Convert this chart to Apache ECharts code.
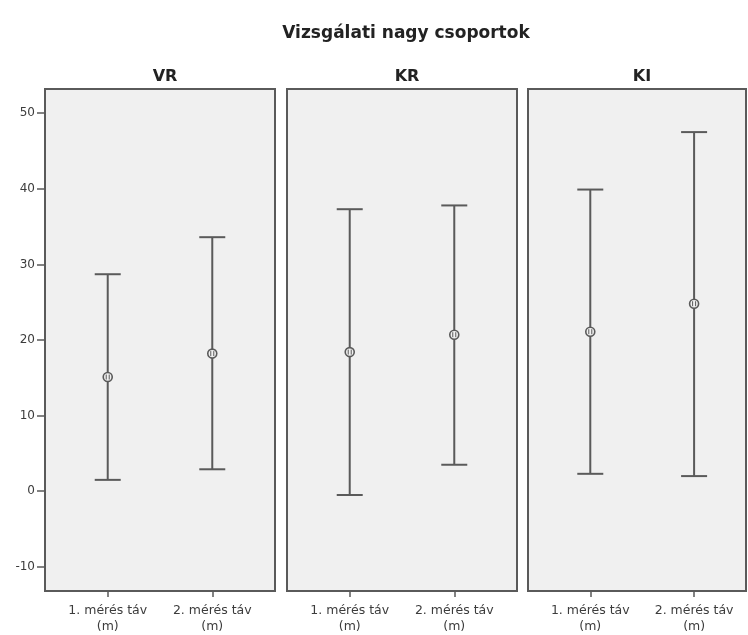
<!DOCTYPE html>
<html>
<head>
<meta charset="utf-8">
<script src="https://cdn.jsdelivr.net/npm/echarts@6/dist/echarts.min.js"></script>
<style>html,body{margin:0;padding:0;background:#fff;}#c{width:748px;height:635px;}</style>
</head>
<body>
<div id="c"></div>
<script>
// ---- data ----
const groups = ['VR', 'KR', 'KI'];
const measures = ['1. mérés táv\n(m)', '2. mérés táv\n(m)'];
const meanVR = [15.1, 18.2];
const lowerVR = [1.5, 2.9];
const upperVR = [28.7, 33.6];
const meanKR = [18.4, 20.7];
const lowerKR = [-0.5, 3.5];
const upperKR = [37.3, 37.8];
const meanKI = [21.1, 24.8];
const lowerKI = [2.3, 2.0];
const upperKI = [39.9, 47.5];
const yTicks = [-10, 0, 10, 20, 30, 40, 50];
const title = 'Vizsgálati nagy csoportok';

const seriesData = [
  [meanVR, lowerVR, upperVR],
  [meanKR, lowerKR, upperKR],
  [meanKI, lowerKI, upperKI]
];

const FONT = 'DejaVu Sans';
const LINE = '#5a5a5a';
const TEXT = '#3c3c3c';

const gridPos = [
  {left: 45, width: 230},
  {left: 287, width: 230},
  {left: 528, width: 218}
];
const xMax = [1.6, 1.6, 1.5];

const grids = [], xAxes = [], yAxes = [], series = [];
const titles = [{
  text: title, left: 401, top: 20, textAlign: 'center',
  textStyle: {fontFamily: FONT, fontSize: 17, fontWeight: 'bold', color: '#222'}
}];

groups.forEach((g, i) => {
  grids.push({
    left: gridPos[i].left, width: gridPos[i].width, top: 89, height: 503,
    show: true, backgroundColor: '#f0f0f0', borderColor: LINE, borderWidth: 2
  });
  titles.push({
    text: g, left: gridPos[i].left + gridPos[i].width / 2, top: 64, textAlign: 'center',
    textStyle: {fontFamily: FONT, fontSize: 16, fontWeight: 'bold', color: '#222'}
  });
  xAxes.push({
    type: 'value', gridIndex: i, min: -0.6, max: xMax[i], position: 'bottom',
    axisLine: {show: false, onZero: false}, splitLine: {show: false},
    axisTick: {show: true, customValues: [0, 1], length: 6, lineStyle: {color: LINE, width: 1.5}},
    axisLabel: {
      show: true, customValues: [0, 1], margin: 12,
      formatter: v => measures[Math.round(v)],
      fontFamily: FONT, fontSize: 12.5, lineHeight: 16, color: TEXT
    }
  });
  yAxes.push({
    type: 'value', gridIndex: i, min: -13.2, max: 53.2, position: 'left',
    show: i === 0,
    splitLine: {show: false},
    axisLine: {show: true, onZero: false, lineStyle: {color: LINE, width: 2}},
    axisTick: {show: true, customValues: yTicks, length: 8, lineStyle: {color: LINE, width: 1.5}},
    axisLabel: {show: true, customValues: yTicks, margin: 10, fontFamily: FONT, fontSize: 12, color: TEXT}
  });
  const [m, lo, hi] = seriesData[i];
  series.push({
    type: 'custom', xAxisIndex: i, yAxisIndex: i,
    data: m.map((v, k) => [k, v, lo[k], hi[k]]),
    renderItem: function (params, api) {
      const x = api.value(0);
      const pm = api.coord([x, api.value(1)]);
      const pl = api.coord([x, api.value(2)]);
      const ph = api.coord([x, api.value(3)]);
      const cw = 13;
      const st = {stroke: LINE, lineWidth: 2, fill: null};
      return {
        type: 'group',
        children: [
          {type: 'line', shape: {x1: pl[0], y1: pl[1], x2: ph[0], y2: ph[1]}, style: st},
          {type: 'line', shape: {x1: ph[0] - cw, y1: ph[1], x2: ph[0] + cw, y2: ph[1]}, style: st},
          {type: 'line', shape: {x1: pl[0] - cw, y1: pl[1], x2: pl[0] + cw, y2: pl[1]}, style: st},
          {type: 'circle', shape: {cx: pm[0], cy: pm[1], r: 4.5}, style: {stroke: LINE, lineWidth: 1.6, fill: '#f0f0f0'}},
          {type: 'line', shape: {x1: pm[0] - 1.5, y1: pm[1] - 2.5, x2: pm[0] - 1.5, y2: pm[1] + 2.5}, style: {stroke: LINE, lineWidth: 1}},
          {type: 'line', shape: {x1: pm[0] + 1.5, y1: pm[1] - 2.5, x2: pm[0] + 1.5, y2: pm[1] + 2.5}, style: {stroke: LINE, lineWidth: 1}}
        ]
      };
    }
  });
});

const chart = echarts.init(document.getElementById('c'), null, {renderer: 'canvas'});
chart.setOption({
  animation: false,
  backgroundColor: '#ffffff',
  title: titles,
  grid: grids,
  xAxis: xAxes,
  yAxis: yAxes,
  series: series
});
</script>
</body>
</html>
